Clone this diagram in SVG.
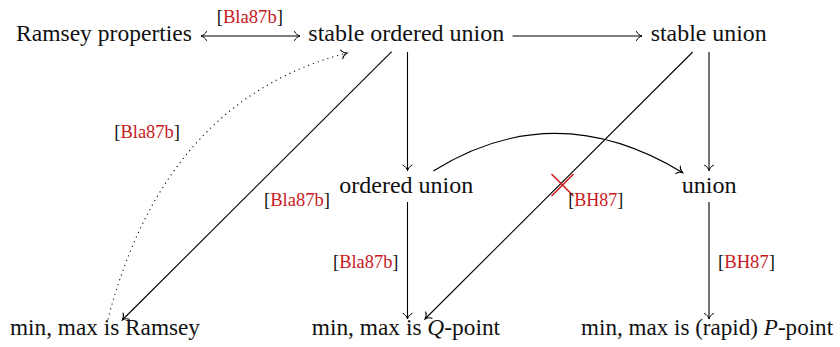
<svg xmlns="http://www.w3.org/2000/svg" width="840" height="347" viewBox="0 0 840 347">
<style>
.t{font-family:"Liberation Serif","DejaVu Serif","Times New Roman",serif;font-size:23.5px;fill:#111}
.l{font-family:"Liberation Serif","DejaVu Serif","Times New Roman",serif;font-size:18px;fill:#111}
.r{fill:#c8191e}
.c{fill:none;stroke:#000;stroke-width:1.1}
.d{fill:none;stroke:#000;stroke-width:1.2;stroke-dasharray:0.1 5;stroke-linecap:round}
.x{stroke:#d01a1a;stroke-width:1.6}
</style>
<defs>
<marker id="ah" markerUnits="userSpaceOnUse" markerWidth="12" markerHeight="12" viewBox="-7 -6 8 12" refX="0" refY="0" orient="auto-start-reverse" overflow="visible">
<path d="M -5.5 -4.5 C -4.5 -2 -2 -0.6 0 0 C -2 0.6 -4.5 2 -5.5 4.5" fill="none" stroke="#000" stroke-width="1" stroke-linecap="round"/>
</marker>
</defs>
<g id="connectors">
<line class="c" x1="201" y1="36" x2="300" y2="36" marker-start="url(#ah)" marker-end="url(#ah)"/>
<line class="c" x1="512.5" y1="36" x2="642" y2="36" marker-end="url(#ah)"/>
<line class="c" x1="407.5" y1="52" x2="407.5" y2="170.7" marker-end="url(#ah)"/>
<line class="c" x1="709" y1="52" x2="709" y2="170.7" marker-end="url(#ah)"/>
<line class="c" x1="407.5" y1="202" x2="407.5" y2="319" marker-end="url(#ah)"/>
<line class="c" x1="709" y1="202" x2="709" y2="319" marker-end="url(#ah)"/>
<line class="c" x1="391.7" y1="51.7" x2="122.3" y2="320" marker-end="url(#ah)"/>
<line class="c" x1="692.7" y1="52" x2="425" y2="319" marker-end="url(#ah)"/>
<path class="c" d="M 433.3 171 Q 555 95 682.7 172.7" marker-end="url(#ah)"/>
<path class="d" d="M 108 319 Q 165 100 347 53" marker-end="url(#ah)"/>
<line class="x" x1="551.5" y1="174" x2="573.5" y2="196"/>
<line class="x" x1="551.5" y1="196" x2="573.5" y2="174"/>
<text class="l" x="216.7" y="23" textLength="66.3" lengthAdjust="spacingAndGlyphs">[<tspan class="r">Bla87b</tspan>]</text>
<text class="l" x="114.3" y="138" textLength="65.7" lengthAdjust="spacingAndGlyphs">[<tspan class="r">Bla87b</tspan>]</text>
<text class="l" x="264" y="206" textLength="66" lengthAdjust="spacingAndGlyphs">[<tspan class="r">Bla87b</tspan>]</text>
<text class="l" x="568.3" y="206" textLength="55" lengthAdjust="spacingAndGlyphs">[<tspan class="r">BH87</tspan>]</text>
<text class="l" x="333" y="268" textLength="65.5" lengthAdjust="spacingAndGlyphs">[<tspan class="r">Bla87b</tspan>]</text>
<text class="l" x="718" y="268" textLength="57" lengthAdjust="spacingAndGlyphs">[<tspan class="r">BH87</tspan>]</text>
</g>
<g id="n-ramsey-properties"><text class="t" x="16" y="41" textLength="176" lengthAdjust="spacingAndGlyphs">Ramsey properties</text></g>
<g id="n-stable-ordered-union"><text class="t" x="308.3" y="41" textLength="196" lengthAdjust="spacingAndGlyphs">stable ordered union</text></g>
<g id="n-stable-union"><text class="t" x="650.7" y="41" textLength="116" lengthAdjust="spacingAndGlyphs">stable union</text></g>
<g id="n-ordered-union"><text class="t" x="339.3" y="193.3" textLength="134" lengthAdjust="spacingAndGlyphs">ordered union</text></g>
<g id="n-union"><text class="t" x="681.7" y="193.3" textLength="55" lengthAdjust="spacingAndGlyphs">union</text></g>
<g id="n-minmax-ramsey"><text class="t" x="10" y="335" textLength="190" lengthAdjust="spacingAndGlyphs">min, max is Ramsey</text></g>
<g id="n-minmax-q"><text class="t" x="311.7" y="335" style="font-size:23.4px">min, max is <tspan font-style="italic">Q</tspan>-point</text></g>
<g id="n-minmax-p"><text class="t" x="581" y="335" style="font-size:23.1px">min, max is (rapid) <tspan font-style="italic">P</tspan>-point</text></g>
</svg>
